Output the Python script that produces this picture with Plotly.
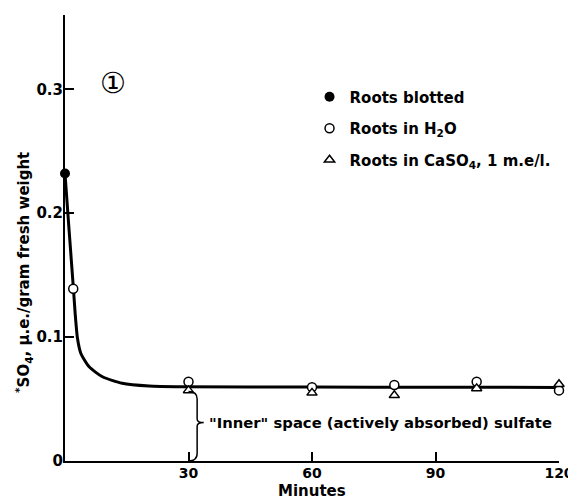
import plotly.graph_objects as go

# ---- data ----
blotted_min = [0]
blotted_val = [0.232]

h2o_min = [2, 30, 60, 80, 100, 120]
h2o_val = [0.139, 0.064, 0.0595, 0.0613, 0.064, 0.057]

caso4_min = [30, 60, 80, 100, 120]
caso4_val = [0.057, 0.055, 0.053, 0.0586, 0.0619]

curve_min = [0, 1.0, 2.06, 2.47, 3.03, 3.83, 5.87, 9.09, 13.9, 20.4, 28.5, 60, 90, 120]
curve_val = [0.232, 0.186, 0.1385, 0.119, 0.099, 0.087, 0.076, 0.068, 0.0627,
             0.0605, 0.0599, 0.0597, 0.0595, 0.0594]

x_ticks = [30, 60, 90, 120]
x_tick_labels = ["30", "60", "90", "120"]
y_ticks = [0, 0.1, 0.2, 0.3]
y_tick_labels = ["0", "0.1", "0.2", "0.3"]

# brace marking the "inner" space
brace_x = 30
brace_top = 0.056
brace_bottom = 0.0
brace_mid = 0.031
brace_w = 2.1
brace_tip = 3.7

FONT = "DejaVu Sans"

fig = go.Figure()

fig.add_trace(go.Scatter(
    x=curve_min, y=curve_val, mode="lines",
    line=dict(color="black", width=3, shape="spline", smoothing=0.6),
    showlegend=False, hoverinfo="skip"))

fig.add_trace(go.Scatter(
    x=blotted_min, y=blotted_val, mode="markers", name="<b>Roots blotted</b>",
    marker=dict(symbol="circle", size=10, color="black"),
    legendgroup="a", cliponaxis=False))

fig.add_trace(go.Scatter(
    x=h2o_min, y=h2o_val, mode="markers", name="<b>Roots in H<sub>2</sub>O</b>",
    marker=dict(symbol="circle", size=9, color="white",
                line=dict(color="black", width=1.5)),
    legendgroup="b", cliponaxis=False))

fig.add_trace(go.Scatter(
    x=caso4_min, y=caso4_val, mode="markers",
    name="<b>Roots in CaSO<sub>4</sub>, 1 m.e/l.</b>",
    marker=dict(symbol="triangle-up", size=9, color="white",
                line=dict(color="black", width=1.5)),
    legendgroup="c", cliponaxis=False))

# brace path built from the named values
bx2 = brace_x + brace_w
bpath = (f"M {brace_x},{brace_top} Q {bx2},{brace_top} {bx2},{brace_top - 0.006} "
         f"L {bx2},{brace_mid + 0.003} Q {bx2},{brace_mid} {brace_x + brace_tip},{brace_mid} "
         f"Q {bx2},{brace_mid} {bx2},{brace_mid - 0.003} "
         f"L {bx2},{brace_bottom + 0.006} Q {bx2},{brace_bottom} {brace_x},{brace_bottom}")
fig.add_shape(type="path", path=bpath, xref="x", yref="y",
              line=dict(color="black", width=1.5))

fig.add_annotation(x=brace_x + 4.6, y=brace_mid, xref="x", yref="y",
                   text='<b>"Inner" space (actively absorbed) sulfate</b>',
                   showarrow=False, xanchor="left", yanchor="middle",
                   font=dict(family=FONT, size=14.8, color="black"))

fig.add_annotation(x=11.6, y=0.305, xref="x", yref="y", text="①",
                   showarrow=False, font=dict(family=FONT, size=29, color="black"))

fig.add_annotation(x=-0.083, y=0.424, xref="paper", yref="paper",
                   xanchor="center", yanchor="middle",
                   text="<b><sup>*</sup>SO<sub>4</sub>, μ.e./gram fresh weight</b>",
                   textangle=-90, showarrow=False,
                   font=dict(family=FONT, size=15, color="black"))

# x-axis title
fig.add_annotation(x=0.5, y=-0.067, xref="paper", yref="paper",
                   xanchor="center", yanchor="middle",
                   text="<b>Minutes</b>", showarrow=False,
                   font=dict(family=FONT, size=15, color="black"))

# the page body has an 8px margin, so the figure is 8px smaller and margins shifted
fig.update_layout(
    width=568, height=491,
    margin=dict(l=57, r=17, t=7, b=38),
    paper_bgcolor="white", plot_bgcolor="white",
    font=dict(family=FONT, color="black", size=15),
    legend=dict(x=0.495, y=0.853, xanchor="left", yanchor="top",
                tracegroupgap=9, font=dict(family=FONT, size=15),
                bgcolor="rgba(0,0,0,0)"),
    xaxis=dict(range=[0, 120], tickvals=x_ticks, ticktext=x_tick_labels,
               ticks="inside", ticklen=9, tickwidth=1.5, tickcolor="black",
               showline=True, linecolor="black", linewidth=2,
               showgrid=False, zeroline=False, automargin=False,
               ticklabelstandoff=-2,
               tickfont=dict(family=FONT, size=14, weight="bold")),
    yaxis=dict(range=[0, 0.36], tickvals=y_ticks, ticktext=y_tick_labels,
               ticks="inside", ticklen=9, tickwidth=1.5, tickcolor="black",
               showline=True, linecolor="black", linewidth=2,
               showgrid=False, zeroline=False, automargin=False,
               ticklabelstandoff=-3,
               tickfont=dict(family=FONT, size=15, weight="bold")),
)

fig.write_html("out.html")
